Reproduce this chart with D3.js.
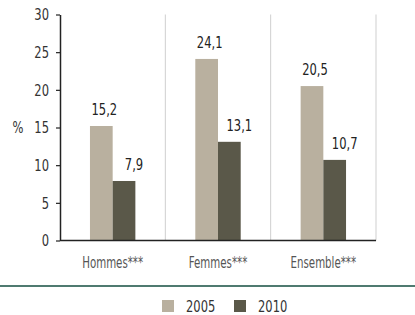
<!DOCTYPE html>
<html>
<head>
<meta charset="utf-8">
<script src="https://cdn.jsdelivr.net/npm/d3@7"></script>
<style>
  body { margin: 0; background: #fff; }
  svg text { font-family: "DejaVu Sans", sans-serif; }
</style>
</head>
<body>
<svg width="415" height="315"></svg>
<script>
let categories = ['Hommes***', 'Femmes***', 'Ensemble***'];
let series = ['2005', '2010'];
let values2005 = [15.2, 24.1, 20.5];
let values2010 = [7.9, 13.1, 10.7];
let yTicks = [0, 5, 10, 15, 20, 25, 30];

let colors = { '2005': '#b9b09f', '2010': '#5a5849' };
let labelShift = { '2005': 3, '2010': 10 };
let squeeze = 0.72;   // fake a condensed face

let svg = d3.select('svg');

let padLeft = 60, padRight = 376, padTop = 14.5, padBottom = 240.5;

// put text at (x, y) squeezed horizontally
let narrow = (sel, fx, fy, k) => {
    k = k || squeeze;
    sel.attr('x', 0)
        .attr('y', 0)
        .attr('transform', (d, i) => 'translate(' + fx(d, i) + ',' + fy(d, i) + ') scale(' + k + ',1)');
}

let xScale = d3.scaleBand()
    .domain(categories)
    .range([padLeft, padRight]);

let xInner = d3.scaleBand()
    .domain(series)
    .range([0, xScale.bandwidth()])
    .paddingOuter(1.32);

let yScale = d3.scaleLinear()
    .domain([0, 30])
    .range([padBottom, padTop]);

let rows = [];
categories.forEach((c, i) => {
    rows.push({ cat: c, s: '2005', v: values2005[i] });
    rows.push({ cat: c, s: '2010', v: values2010[i] });
});

// light separators at the right edge of each category
svg.selectAll('line.sep')
    .data(categories)
    .enter()
    .append('line')
    .attr('class', 'sep')
    .attr('x1', (d) => xScale(d) + xScale.bandwidth())
    .attr('x2', (d) => xScale(d) + xScale.bandwidth())
    .attr('y1', yScale(30))
    .attr('y2', yScale(0))
    .attr('stroke', '#cfcfcf')
    .attr('stroke-width', 1);

// bars
svg.selectAll('rect.bar')
    .data(rows)
    .enter()
    .append('rect')
    .attr('class', 'bar')
    .attr('x', (d) => xScale(d.cat) + xInner(d.s))
    .attr('y', (d) => yScale(d.v))
    .attr('width', xInner.bandwidth())
    .attr('height', (d) => yScale(0) - yScale(d.v))
    .style('fill', (d) => colors[d.s]);

// value labels
let vals = svg.selectAll('text.val')
    .data(rows)
    .enter()
    .append('text')
    .attr('class', 'val')
    .attr('text-anchor', 'middle')
    .attr('font-size', 16.5)
    .attr('fill', '#222')
    .text((d) => String(d.v).replace('.', ','));
narrow(vals,
    (d) => xScale(d.cat) + xInner(d.s) + xInner.bandwidth() / 2 + labelShift[d.s],
    (d) => yScale(d.v) - 11, 0.7);

// y axis
let yAxis = d3.axisLeft(yScale)
    .tickValues(yTicks)
    .tickSize(4)
    .tickPadding(7)
    .tickSizeOuter(0);

let gy = svg.append('g')
    .attr('id', 'y-axis')
    .attr('transform', 'translate(' + padLeft + ', 0)')
    .call(yAxis);
gy.select('.domain').attr('stroke', '#222').attr('stroke-width', 1.5);
gy.selectAll('.tick line').attr('stroke', '#222').attr('stroke-width', 1.2);
gy.selectAll('.tick text')
    .attr('font-size', 16.5)
    .attr('fill', '#333')
    .attr('x', 0)
    .attr('transform', 'translate(-11,0) scale(0.7,1)')
    .style('font-family', '"DejaVu Sans", sans-serif');

// baseline
svg.append('line')
    .attr('x1', padLeft)
    .attr('x2', padRight)
    .attr('y1', yScale(0))
    .attr('y2', yScale(0))
    .attr('stroke', '#222')
    .attr('stroke-width', 1.5);

let pct = svg.append('text')
    .attr('dy', '0.35em')
    .attr('text-anchor', 'middle')
    .attr('font-size', 16)
    .attr('fill', '#333')
    .text('%');
narrow(pct, () => 18, () => yScale(15));

// category labels
let cats = svg.selectAll('text.cat')
    .data(categories)
    .enter()
    .append('text')
    .attr('class', 'cat')
    .attr('text-anchor', 'middle')
    .attr('font-size', 16)
    .attr('fill', '#555')
    .text((d) => d);
narrow(cats, (d) => xScale(d) + xScale.bandwidth() / 2, () => 268, 0.64);

// teal rule
svg.append('line')
    .attr('x1', 0)
    .attr('x2', 415)
    .attr('y1', 286)
    .attr('y2', 286)
    .attr('stroke', '#4f7a70')
    .attr('stroke-width', 2);

// legend
let legendX = { '2005': 162, '2010': 234 };
let leg = svg.selectAll('g.leg')
    .data(series)
    .enter()
    .append('g')
    .attr('class', 'leg')
    .attr('transform', (d) => 'translate(' + legendX[d] + ', 300)');
leg.append('rect')
    .attr('width', 12)
    .attr('height', 12)
    .style('fill', (d) => colors[d]);
let legText = leg.append('text')
    .attr('font-size', 16)
    .attr('fill', '#333')
    .text((d) => d);
narrow(legText, () => 24, () => 12);
</script>
</body>
</html>
